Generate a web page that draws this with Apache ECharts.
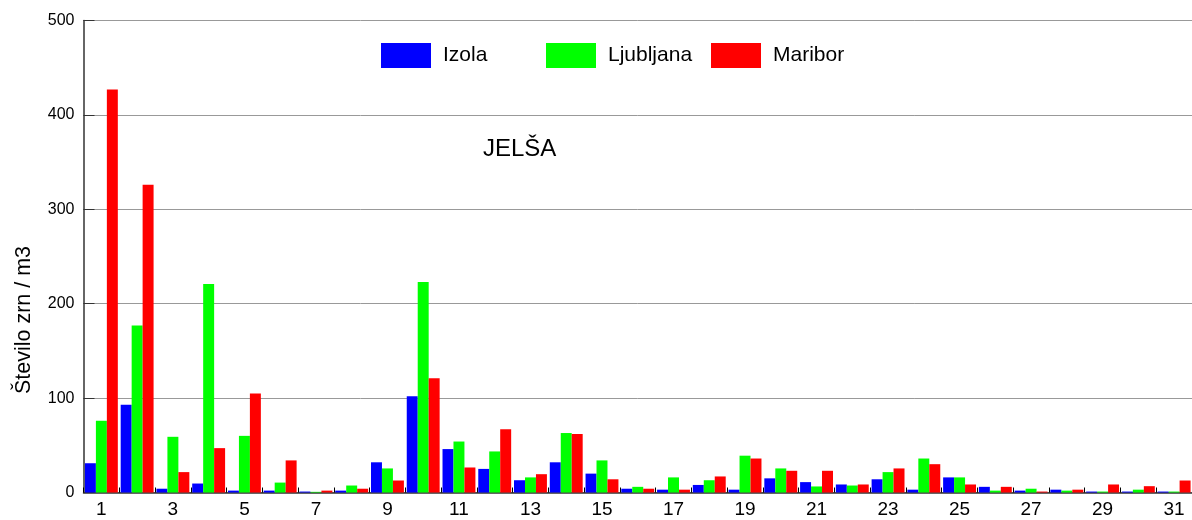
<!DOCTYPE html>
<html>
<head>
<meta charset="utf-8">
<script src="https://cdn.jsdelivr.net/npm/echarts@6/dist/echarts.min.js"></script>
<style>
html,body{margin:0;padding:0;background:#fff;}
#c{width:1192px;height:520px;}
</style>
</head>
<body>
<div id="c"></div>
<script>
const days = Array.from({length: 31}, (_, i) => String(i + 1));
const izola = [31, 93, 4, 9.5, 2, 2, 1, 2, 32, 102, 46, 25, 13, 32, 20, 4, 3, 8, 3, 15, 11, 8.5, 14, 3, 16, 6, 2, 3, 1, 1, 1];
const ljubljana = [76, 177, 59, 221, 60, 10.5, 0.7, 7.4, 25.5, 223, 54, 43.5, 16, 63, 34, 6, 16, 13, 39, 25.5, 6.4, 7.4, 21.6, 36, 16, 2, 4, 2, 1, 3, 1];
const maribor = [427, 326, 21.6, 47, 105, 34, 2, 4, 12.7, 121, 26.5, 67, 19.4, 62, 14, 4, 3, 17, 36, 23, 23, 8.5, 25.5, 30, 8.5, 6, 1, 3, 8.5, 6.7, 12.7];
const seriesNames = ['Izola', 'Ljubljana', 'Maribor'];
const colors = ['#0000ff', '#00ff00', '#ff0000'];
const yTicks = [0, 100, 200, 300, 400, 500];

const font = 'Liberation Sans, Arial, sans-serif';
const chart = echarts.init(document.getElementById('c'), null, {renderer: 'canvas'});

function legendFor(i, left) {
  return {
    data: [seriesNames[i]],
    left: left,
    top: 38,
    itemWidth: 50,
    itemHeight: 25,
    itemGap: 0,
    icon: 'rect',
    textStyle: {fontFamily: font, fontSize: 21, color: '#000', padding: [0, 0, 0, 7]},
    selectedMode: false
  };
}

chart.setOption({
  animation: false,
  color: colors,
  grid: {left: 83.5, top: 20.5, width: 1116, height: 472},
  legend: [legendFor(0, 376), legendFor(1, 541), legendFor(2, 706)],
  graphic: [
    {type: 'text', left: 483, top: 137, style: {text: 'JELŠA', fontFamily: font, fontSize: 24, fill: '#000'}},
    {type: 'text', x: 24, y: 320, rotation: Math.PI / 2,
     style: {text: 'Število zrn / m3', fontFamily: font, fontSize: 21.5, fill: '#000', align: 'center', verticalAlign: 'middle'}}
  ],
  xAxis: {
    type: 'category',
    data: days,
    boundaryGap: true,
    axisLine: {lineStyle: {color: '#333', width: 1.5}},
    axisTick: {show: true, inside: true, length: 5, interval: 0, lineStyle: {color: '#000'}},
    axisLabel: {interval: 1, fontFamily: font, fontSize: 19, color: '#000', margin: 8},
    splitLine: {show: false}
  },
  yAxis: {
    type: 'value',
    min: yTicks[0],
    max: yTicks[yTicks.length - 1],
    interval: 100,
    axisLine: {show: true, lineStyle: {color: '#333', width: 1.5}},
    axisTick: {show: true, inside: true, length: 11, lineStyle: {color: '#333'}},
    axisLabel: {fontFamily: font, fontSize: 16, color: '#000', margin: 9},
    splitLine: {show: true, lineStyle: {color: '#999', width: 1}}
  },
  series: [
    {name: seriesNames[0], type: 'bar', data: izola, barGap: '0%', barCategoryGap: '8%'},
    {name: seriesNames[1], type: 'bar', data: ljubljana, barGap: '0%', barCategoryGap: '8%'},
    {name: seriesNames[2], type: 'bar', data: maribor, barGap: '0%', barCategoryGap: '8%'}
  ]
});
</script>
</body>
</html>
